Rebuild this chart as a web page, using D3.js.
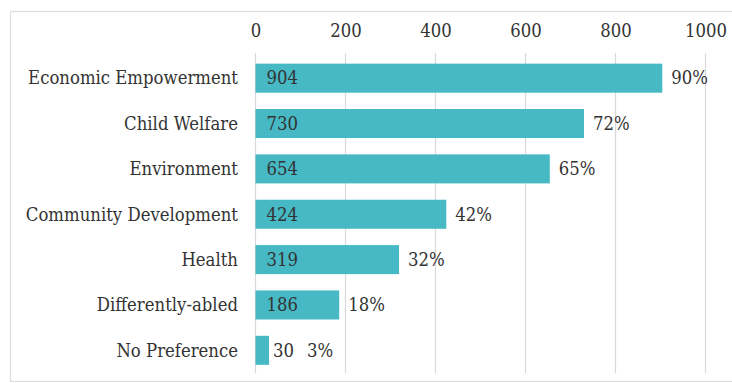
<!DOCTYPE html>
<html>
<head>
<meta charset="utf-8">
<script src="https://cdn.jsdelivr.net/npm/d3@7"></script>
<style>
  html, body { margin: 0; padding: 0; background: #fff; }
  svg { display: block; }
</style>
</head>
<body>
<svg id="chart" width="732" height="383"></svg>
<script>
// Preferred cause areas: respondent counts and share of respondents
const categories = ["Economic Empowerment", "Child Welfare", "Environment",
  "Community Development", "Health", "Differently-abled", "No Preference"];
const counts = [904, 730, 654, 424, 319, 186, 30];
const percents = ["90%", "72%", "65%", "42%", "32%", "18%", "3%"];
const tickValues = [0, 200, 400, 600, 800, 1000];

const FONT = "DejaVu Serif, serif";
const FS = 18;
const TEXT = "#333";
const svg = d3.select("#chart");

// horizontal squeeze so the wide serif sets about as narrow as a Times face
const probe = svg.append("text").attr("font-family", FONT).attr("font-size", FS)
  .text("Economic Empowerment");
const SQ = Math.min(1, 210 / probe.node().getComputedTextLength());
probe.remove();

function styleText(sel) {
  sel.attr("font-family", FONT).attr("font-size", FS).attr("fill", TEXT)
    .attr("transform", function () {
      const x0 = +this.getAttribute("x") || 0;
      return `translate(${x0},0) scale(${SQ},1) translate(${-x0},0)`;
    });
}

// chart frame
svg.append("rect")
  .attr("x", 10.5).attr("y", 11.5)
  .attr("width", 740).attr("height", 370)
  .attr("fill", "none").attr("stroke", "#dedede").attr("stroke-width", 1.2);

const x = d3.scaleLinear().domain([0, 1000]).range([255.5, 705.5]);
const y = d3.scaleBand().domain(categories).range([55.5, 373]).paddingInner(0.36).paddingOuter(0.18);

// vertical gridlines
svg.append("g").selectAll("line").data(tickValues).join("line")
  .attr("x1", d => x(d)).attr("x2", d => x(d))
  .attr("y1", 53).attr("y2", 373)
  .attr("stroke", "#d9d9d9").attr("stroke-width", 1.2);

// top axis labels
const axis = svg.append("g").attr("transform", "translate(0,37)")
  .call(d3.axisTop(x).tickValues(tickValues).tickSize(0).tickPadding(0).tickFormat(d3.format("d")));
axis.select(".domain").remove();
axis.selectAll("text").attr("dy", "0").call(styleText);

// category labels
svg.append("g").selectAll("text").data(categories).join("text")
  .attr("x", 238).attr("y", d => y(d) + y.bandwidth() / 2)
  .attr("dy", "0.35em").attr("text-anchor", "end")
  .text(d => d)
  .call(styleText);

const rows = categories.map((c, i) => ({ c, v: counts[i], p: percents[i] }));
const wide = d => x(d.v) - x(0) > 40;

// bars
svg.append("g").selectAll("rect").data(rows).join("rect")
  .attr("x", x(0)).attr("y", d => y(d.c))
  .attr("width", d => x(d.v) - x(0)).attr("height", y.bandwidth())
  .attr("fill", "#46b9c5");

// value labels: inside the bar base, or just past a short bar
const valueLabels = svg.append("g").selectAll("text").data(rows).join("text")
  .attr("y", d => y(d.c) + y.bandwidth() / 2).attr("dy", "0.35em")
  .attr("x", d => (wide(d) ? x(0) + 11 : x(d.v) + 4))
  .text(d => d.v)
  .call(styleText);

// percentage labels past the bar end (or past an outside value label)
svg.append("g").selectAll("text").data(rows).join("text")
  .attr("y", d => y(d.c) + y.bandwidth() / 2).attr("dy", "0.35em")
  .attr("x", (d, i) => {
    if (wide(d)) return x(d.v) + 9;
    const n = valueLabels.nodes()[i];
    return +n.getAttribute("x") + n.getComputedTextLength() * SQ + 13;
  })
  .text(d => d.p)
  .call(styleText);
</script>
</body>
</html>
